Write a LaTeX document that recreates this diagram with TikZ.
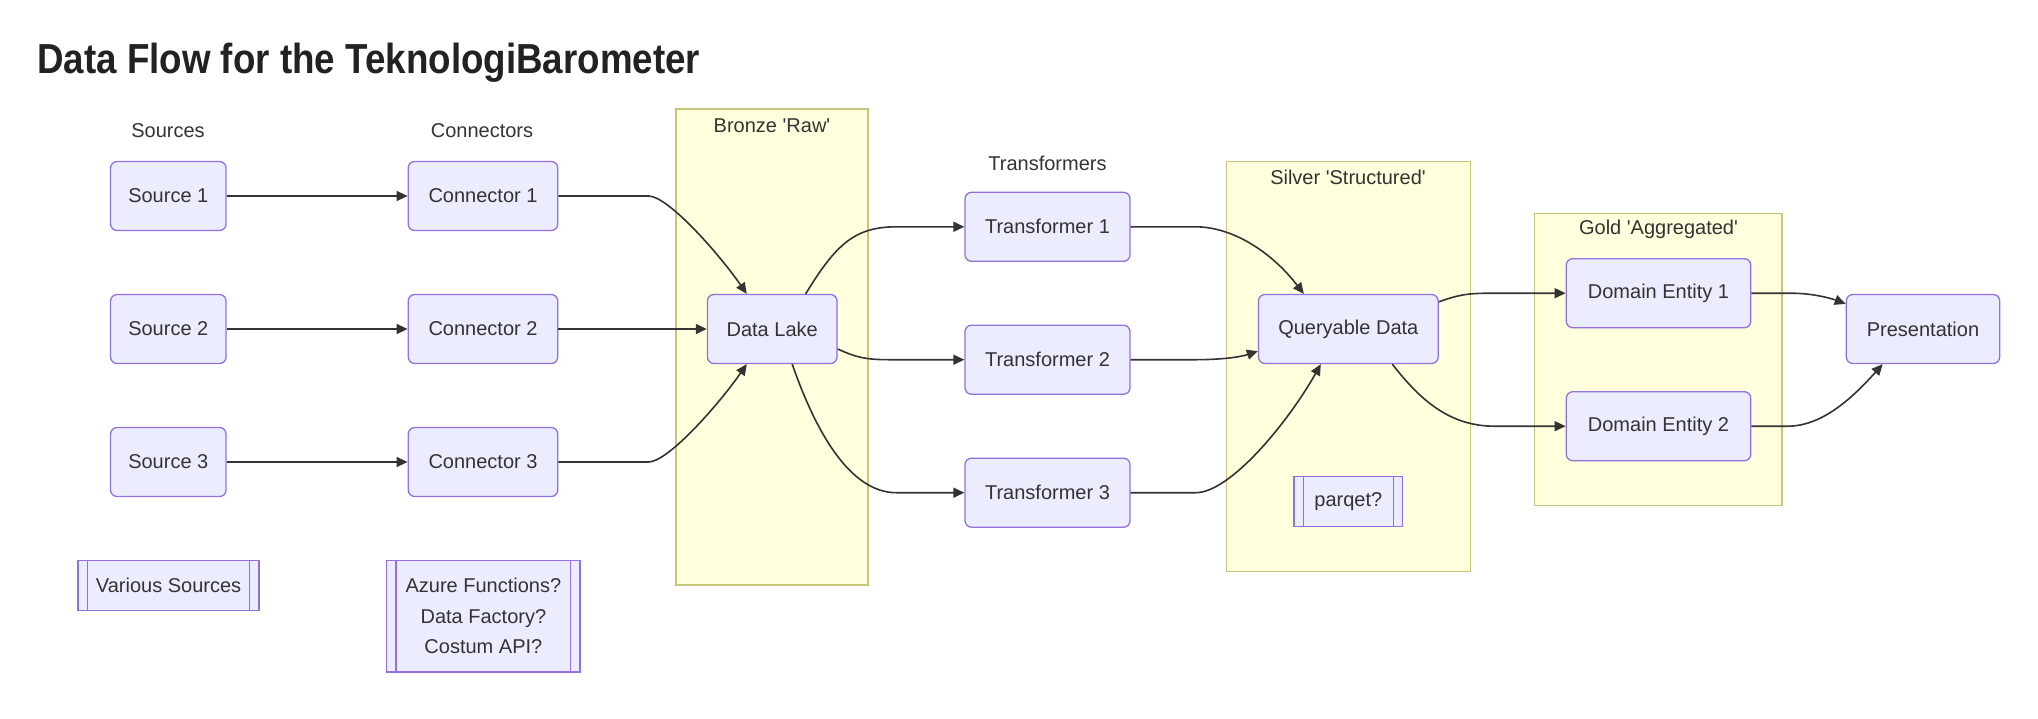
\documentclass[tikz,border=0pt]{standalone}
\usepackage{fontspec}
\setmainfont{Liberation Sans}
\usetikzlibrary{arrows.meta,calc}
\definecolor{nodefill}{HTML}{ECECFF}
\definecolor{nodeline}{HTML}{9370DB}
\definecolor{grpfill}{HTML}{FFFFDE}
\definecolor{grpline}{HTML}{C6C67A}
\definecolor{ink}{HTML}{333333}
\definecolor{titleink}{HTML}{222222}
\newcommand{\nodefont}{\fontsize{20}{24}\selectfont}
\begin{document}
\begin{tikzpicture}[x=1pt,y=-1pt,
  box/.style={draw=nodeline, fill=nodefill, line width=1.3pt, rounded corners=6.5pt,
    minimum height=69pt, inner sep=0pt, font=\nodefont, text=ink},
  subr/.style={draw=nodeline, fill=nodefill, line width=1.3pt, inner sep=0pt,
    font=\nodefont, text=ink},
  subline/.style={draw=nodeline, line width=1.3pt},
  grp/.style={draw=grpline, fill=grpfill, line width=1.5pt, inner sep=0pt},
  lbl/.style={font=\nodefont, text=ink, inner sep=0pt},
  flow/.style={draw=ink, line width=1.6pt, -{Triangle[length=11pt,width=10pt]}}]
\useasboundingbox (0,0) rectangle (2038,718);
\fill[white] (0,0) rectangle (2038,718);

% title
\node[anchor=base west, inner sep=0pt, text=titleink] (title) at (37,73)
  {\scalebox{0.875}[1]{\fontsize{42}{50}\selectfont\bfseries Data Flow for the TeknologiBarometer}};

% groups
\node[grp, minimum width=192pt, minimum height=476pt] (bronze) at (772,347) {};
\node[grp, minimum width=243.8pt, minimum height=409.6pt] (silver) at (1348.4,366.5) {};
\node[grp, minimum width=247.8pt, minimum height=291.6pt] (gold) at (1658.3,359.5) {};

% labels
\node[lbl] (lsrc) at (168,131) {Sources};
\node[lbl] (lcon) at (482,131) {Connectors};
\node[lbl] (ltr) at (1047.5,163.3) {Transformers};
\node[lbl] (lbronze) at (772,125.7) {Bronze \textquotesingle Raw\textquotesingle};
\node[lbl] (lsilver) at (1348,177.3) {Silver \textquotesingle Structured\textquotesingle};
\node[lbl] (lgold) at (1658.5,229) {Gold \textquotesingle Aggregated\textquotesingle};

% nodes
\node[box, minimum width=115.5pt] (s1) at (168.3,196) {Source 1};
\node[box, minimum width=115.5pt] (s2) at (168.3,329) {Source 2};
\node[box, minimum width=115.5pt] (s3) at (168.3,462) {Source 3};
\node[box, minimum width=149.5pt] (c1) at (483,196) {Connector 1};
\node[box, minimum width=149.5pt] (c2) at (483,329) {Connector 2};
\node[box, minimum width=149.5pt] (c3) at (483,462) {Connector 3};
\node[box, minimum width=129.6pt] (dl) at (772.2,329) {Data Lake};
\node[box, minimum width=165pt] (t1) at (1047.5,226.8) {Transformer 1};
\node[box, minimum width=165pt] (t2) at (1047.5,359.7) {Transformer 2};
\node[box, minimum width=165pt] (t3) at (1047.5,492.7) {Transformer 3};
\node[box, minimum width=179.7pt] (q) at (1348.3,329) {Queryable Data};
\node[box, minimum width=184.5pt] (de1) at (1658.5,293.2) {Domain Entity 1};
\node[box, minimum width=184.5pt] (de2) at (1658.5,426.2) {Domain Entity 2};
\node[box, minimum width=153.4pt] (p) at (1923,329) {Presentation};

% subroutine nodes
\node[subr, minimum width=181pt, minimum height=50pt] (vs) at (168.6,585.3) {Various Sources};
\node[subr, minimum width=193.4pt, minimum height=111.7pt, align=center,
  font=\fontsize{20}{30.5}\selectfont] (az) at (483.4,616.1)
  {Azure Functions?\\Data Factory?\\Costum API?};
\node[subr, minimum width=108.6pt, minimum height=50pt] (pq) at (1348.3,501.7) {parqet?};
\foreach \n in {vs,az,pq}{
  \draw[subline] ($(\n.north west)+(10,0)$) -- ($(\n.south west)+(10,0)$);
  \draw[subline] ($(\n.north east)+(-10,0)$) -- ($(\n.south east)+(-10,0)$);
}

% edges
\draw[flow] (s1.east) -- (c1.west);
\draw[flow] (s2.east) -- (c2.west);
\draw[flow] (s3.east) -- (c3.west);
\draw[flow] (c1.east) -- ++(90,0) .. controls +(20,0) and +(-27,-39) .. ($(dl.north west)+(40,0)$);
\draw[flow] (c2.east) -- (dl.west);
\draw[flow] (c3.east) -- ++(90,0) .. controls +(20,0) and +(-27,39) .. ($(dl.south west)+(40,0)$);

\draw[flow] ($(dl.north east)+(-32,0)$) .. controls +(30,-49) and +(-42,0) .. ($(t1.west)+(-68,0)$) -- (t1.west);
\draw[flow] ($(dl.east)+(0,20)$) .. controls +(18,8) and +(-25,0) .. ($(t2.west)+(-75,0)$) -- (t2.west);
\draw[flow] ($(dl.south)+(20,0)$) .. controls +(23,66) and +(-47,0) .. ($(t3.west)+(-68,0)$) -- (t3.west);

\draw[flow] (t1.east) -- ++(65,0) .. controls +(35,0) and +(-34,-44) .. ($(q.north west)+(46,0)$);
\draw[flow] (t2.east) -- ++(65,0) .. controls +(25,0) and +(-18,6) .. ($(q.south west)+(0,-13)$);
\draw[flow] (t3.east) -- ++(65,0) .. controls +(35,0) and +(-32,57) .. ($(q.south west)+(63,0)$);

\draw[flow] ($(q.north east)+(0,8)$) .. controls +(17,-6) and +(-25,0) .. ($(de1.west)+(-76,0)$) -- (de1.west);
\draw[flow] ($(q.south)+(44,0)$) .. controls +(28,36) and +(-45,0) .. ($(de2.west)+(-71,0)$) -- (de2.west);

\draw[flow] (de1.east) -- ++(40,0) .. controls +(20,0) and +(-16,-6) .. ($(p.north west)+(0,10)$);
\draw[flow] (de2.east) -- ++(36,0) .. controls +(33,0) and +(-33,37) .. ($(p.south west)+(37,0)$);
\end{tikzpicture}
\end{document}
